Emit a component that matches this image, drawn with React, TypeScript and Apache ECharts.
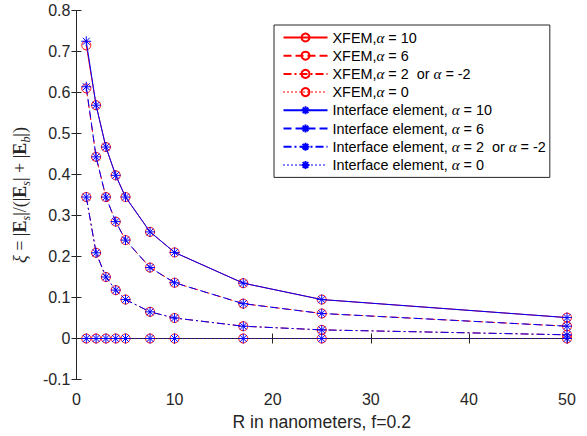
import React, { useEffect, useRef } from "react";
import * as echarts from "echarts";

const radii = [1, 2, 3, 4, 5, 7.5, 10, 17, 25, 50];
const xfem10 = [0.715, 0.569, 0.467, 0.398, 0.345, 0.26, 0.21, 0.135, 0.095, 0.051];
const xfem6 = [0.61, 0.443, 0.345, 0.285, 0.24, 0.173, 0.136, 0.085, 0.061, 0.03];
const xfem2 = [0.345, 0.209, 0.15, 0.118, 0.095, 0.065, 0.05, 0.03, 0.021, 0.009];
const xfem0 = [0, 0, 0, 0, 0, 0, 0, 0, 0, 0];
const ie10 = [0.725, 0.569, 0.467, 0.398, 0.345, 0.26, 0.21, 0.135, 0.095, 0.051];
const ie6 = [0.614, 0.443, 0.345, 0.285, 0.24, 0.173, 0.136, 0.085, 0.061, 0.03];
const ie2 = [0.345, 0.209, 0.15, 0.118, 0.095, 0.065, 0.05, 0.03, 0.021, 0.009];
const ie0 = [0, 0, 0, 0, 0, 0, 0, 0, 0, 0];

const seriesNames = [
  "XFEM,α = 10",
  "XFEM,α = 6",
  "XFEM,α = 2  or α = -2",
  "XFEM,α = 0",
  "Interface element, α = 10",
  "Interface element, α = 6",
  "Interface element, α = 2  or α = -2",
  "Interface element, α = 0",
];
const xTicks = [0, 10, 20, 30, 40, 50];
const yTicks = [-0.1, 0, 0.1, 0.2, 0.3, 0.4, 0.5, 0.6, 0.7, 0.8];

const ASTERISK = "path://M0,5L10,5M5,0L5,10M1.5,1.5L8.5,8.5M1.5,8.5L8.5,1.5";
const dashes: any[] = ["solid", [8, 4], [8, 3, 2, 3], [1, 3]];

export default function App() {
  const ref = useRef<HTMLDivElement>(null);
  useEffect(() => {
    if (!ref.current) return;
    const chart = echarts.init(ref.current, null, { renderer: "svg" });
    const allData = [xfem10, xfem6, xfem2, xfem0, ie10, ie6, ie2, ie0];
    const series = allData.map((vals, i) => {
      const isX = i < 4;
      const color = isX ? "#ff0000" : "#0000ff";
      return {
        name: seriesNames[i],
        type: "line",
        data: vals.map((v, k) => [radii[k], v]),
        symbol: isX ? "circle" : ASTERISK,
        symbolSize: isX ? 9 : 10,
        showSymbol: true,
        lineStyle: { color, width: 1, type: dashes[i % 4] },
        itemStyle: { color: "rgba(0,0,0,0)", borderColor: color, borderWidth: 1 },
        emphasis: { disabled: true },
        z: isX ? 2 : 3,
      };
    });
    const axisLine = { show: true, lineStyle: { color: "#262626", width: 1 } };
    const tick = { show: true, inside: true, length: 5, lineStyle: { color: "#262626" } };
    const fmt = (v: number) => String(parseFloat(v.toFixed(1)));
    chart.setOption({
      animation: false,
      backgroundColor: "#ffffff",
      textStyle: { fontFamily: "Liberation Sans" },
      grid: { left: 75, right: 20, top: 10.5, bottom: 56.5 },
      legend: {
        data: seriesNames,
        orient: "vertical",
        left: 274,
        top: 25,
        itemWidth: 44,
        itemHeight: 10,
        itemGap: 3.2,
        padding: [5, 4, 5, 8.5],
        backgroundColor: "#ffffff",
        borderColor: "#262626",
        borderWidth: 1,
        selectedMode: false,
        formatter: (name: string) => name.replace(/α/g, "{a|α}"),
        textStyle: {
          fontFamily: "Liberation Sans",
          fontSize: 14.4,
          color: "#000000",
          rich: {
            a: { fontFamily: "Liberation Serif", fontStyle: "italic", fontSize: 15, color: "#000000" },
          },
        },
      },
      xAxis: [
        {
          type: "value",
          min: xTicks[0],
          max: xTicks[xTicks.length - 1],
          interval: 10,
          name: "R in nanometers, f=0.2",
          nameLocation: "middle",
          nameGap: 33,
          nameTextStyle: { fontSize: 17.6, color: "#262626", fontFamily: "Liberation Sans" },
          axisLine,
          axisTick: tick,
          splitLine: { show: false },
          axisLabel: { fontSize: 16, color: "#262626", margin: 12, formatter: fmt },
        },
        {
          type: "value",
          position: "top",
          min: xTicks[0],
          max: xTicks[xTicks.length - 1],
          interval: 10,
          axisLine,
          axisTick: tick,
          splitLine: { show: false },
          axisLabel: { show: false },
        },
      ],
      yAxis: [
        {
          type: "value",
          min: yTicks[0],
          max: yTicks[yTicks.length - 1],
          interval: 0.1,
          name: "{i|ξ} = |{b|E}{s|s}|/(|{b|E}{s|s}| + |{b|E}{s|b}|)",
          nameLocation: "middle",
          nameGap: 31,
          nameTextStyle: {
            fontFamily: "Liberation Serif",
            fontSize: 18,
            color: "#262626",
            lineHeight: 24,
            rich: {
              i: { fontFamily: "Liberation Serif", fontStyle: "italic", fontSize: 18, color: "#262626", lineHeight: 24 },
              b: { fontFamily: "Liberation Serif", fontWeight: "bold", fontSize: 18, color: "#262626", lineHeight: 24 },
              s: { fontFamily: "Liberation Serif", fontStyle: "italic", fontSize: 12, color: "#262626", verticalAlign: "bottom", lineHeight: 24 },
            },
          },
          axisLine,
          axisTick: tick,
          splitLine: { show: false },
          axisLabel: { fontSize: 16, color: "#262626", margin: 6, formatter: fmt },
        },
        {
          type: "value",
          position: "right",
          min: yTicks[0],
          max: yTicks[yTicks.length - 1],
          interval: 0.1,
          axisLine,
          axisTick: tick,
          splitLine: { show: false },
          axisLabel: { show: false },
        },
      ],
      series,
    });
    return () => chart.dispose();
  }, []);
  return (
    <div
      ref={ref}
      style={{ position: "fixed", left: 0, top: 0, width: 587, height: 436 }}
    />
  );
}
